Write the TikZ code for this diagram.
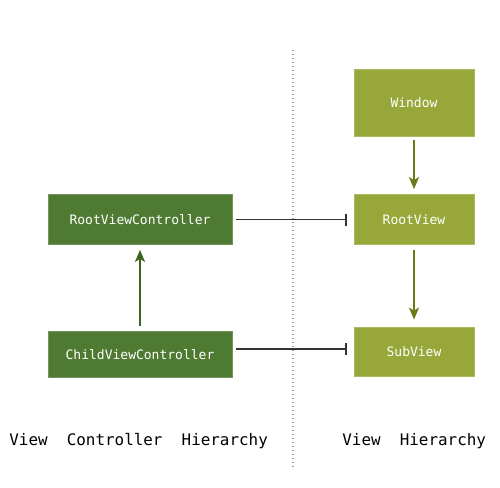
\documentclass[tikz,border=0pt]{standalone}
\usepackage{fontspec}
\setmonofont{DejaVu Sans Mono}
\usetikzlibrary{arrows.meta}
\definecolor{vcgreen}{HTML}{4E7A32}
\definecolor{vcarrow}{HTML}{3E6420}
\definecolor{vgreen}{HTML}{98A73A}
\definecolor{varrow}{HTML}{6E7A18}
\tikzset{
    vcbox/.style={fill=vcgreen, draw=vcgreen!80!white, text=white, font=\ttfamily\fontsize{6.5}{7}\selectfont, minimum width=92pt, minimum height=25pt, inner sep=0pt},
    vbox/.style={fill=vgreen, draw=vgreen!80!white, text=white, font=\ttfamily\fontsize{6.5}{7}\selectfont, minimum width=60pt, minimum height=25pt, inner sep=0pt},
    owns/.style={line width=0.75pt, draw=black!80, -{Bar[width=6pt, line width=0.9pt]}},
    child/.style={line width=1pt, -{Stealth[length=6pt, width=5pt, inset=1.5pt]}},
    title/.style={font=\ttfamily\fontsize{7.95}{9}\selectfont, anchor=west, inner sep=0pt}
}

\begin{document}
\begin{tikzpicture}[x=0.5pt, y=-0.5pt]
\useasboundingbox (0,0) rectangle (500,488);
\draw[black!40, line width=0.6pt, dash pattern=on 0.6pt off 1.4pt] (293,50)--(293,468);
\node[vcbox] (rootvc) at (140,219.5) {RootViewController};
\node[vcbox, minimum height=23pt] (childvc) at (140,354.5) {ChildViewController};
\node[vbox, minimum height=33.5pt] (window) at (414,102.5) {Window};
\node[vbox] (rootview) at (414,219.5) {RootView};
\node[vbox, minimum height=24.5pt] (subview) at (414,351.5) {SubView};
\draw[child, vcarrow] ([yshift=2.75pt]childvc.north)--([yshift=-2.5pt]rootvc.south);
\draw[child, varrow] ([yshift=-2pt]window.south)--([yshift=2.5pt]rootview.north);
\draw[child, varrow] ([yshift=-2.5pt]rootview.south)--([yshift=3.5pt]subview.north);
\draw[owns] ([xshift=2pt]rootvc.east)--([xshift=-3.5pt]rootview.west);
\draw[owns] ([xshift=2pt,yshift=2.75pt]childvc.east)--([xshift=-3.5pt,yshift=1.25pt]subview.west);
\node[title] (vctitle) at (9,441) {View\ \ Controller\ \ Hierarchy};
\node[title] (vtitle) at (342,441) {View\ \ Hierarchy};
\end{tikzpicture}
\end{document}
